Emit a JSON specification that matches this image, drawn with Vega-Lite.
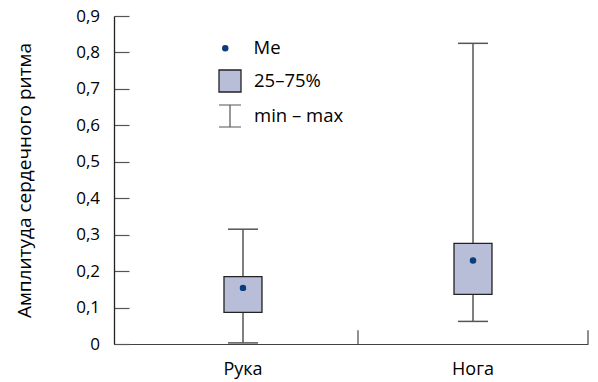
{
  "$schema": "https://vega.github.io/schema/vega-lite/v6.json",
  "autosize": "none",
  "width": 474,
  "height": 328,
  "padding": {"left": 114, "top": 16, "right": 10, "bottom": 38},
  "background": "white",
  "data": {
    "values": [
      {"group": "Рука", "min": 0.003, "q1": 0.087, "median": 0.154, "q3": 0.185, "max": 0.315},
      {"group": "Нога", "min": 0.062, "q1": 0.136, "median": 0.229, "q3": 0.276, "max": 0.825}
    ]
  },
  "encoding": {
    "x": {
      "field": "group",
      "type": "nominal",
      "sort": ["Рука", "Нога"],
      "scale": {"domain": ["Рука", "Нога"], "paddingInner": 0, "paddingOuter": 0.0304, "align": 1},
      "axis": {
        "title": null,
        "labelAngle": 0,
        "ticks": false,
        "labelPadding": 16,
        "domainColor": "#444",
        "domainWidth": 1.2,
        "labelFont": "Open Sans",
        "labelFontSize": 18,
        "labelColor": "#000"
      }
    }
  },
  "layer": [
    {
      "mark": {"type": "rule", "strokeWidth": 1.5},
      "encoding": {
        "y": {
          "field": "min",
          "type": "quantitative",
          "scale": {"domain": [0, 0.9], "nice": false, "zero": true},
          "axis": {"title": "Амплитуда сердечного ритма"}
        },
        "y2": {"field": "max"},
        "stroke": {
          "datum": "min – max",
          "scale": {"domain": ["min – max"], "range": ["#555"]},
          "legend": {
            "title": null,
            "orient": "none",
            "legendX": 104,
            "legendY": 88,
            "padding": 0,
            "symbolType": "M-1,-1H1M0,-1V1M-1,1H1",
            "symbolSize": 484,
            "symbolStrokeWidth": 1.2,
            "symbolStrokeColor": "#222",
            "labelOffset": 12,
            "labelFont": "Open Sans",
            "labelFontSize": 18.5,
            "labelColor": "#000"
          }
        }
      }
    },
    {
      "data": {"values": [{}]},
      "mark": {"type": "rule", "color": "#444", "strokeWidth": 1.2},
      "encoding": {
        "x": {"datum": "Нога", "bandPosition": 0},
        "y": {"datum": 0, "type": "quantitative"},
        "y2": {"datum": 0.038}
      }
    },
    {
      "data": {"values": [{}]},
      "mark": {"type": "rule", "color": "#444", "strokeWidth": 1.2},
      "encoding": {
        "x": {"datum": "Нога", "bandPosition": 1},
        "y": {"datum": 0, "type": "quantitative"},
        "y2": {"datum": 0.038}
      }
    },
    {
      "mark": {"type": "tick", "size": 30, "thickness": 1.5, "color": "#555", "opacity": 1},
      "encoding": {"y": {"field": "max", "type": "quantitative"}}
    },
    {
      "mark": {"type": "tick", "size": 30, "thickness": 1.5, "color": "#555", "opacity": 1},
      "encoding": {"y": {"field": "min", "type": "quantitative"}}
    },
    {
      "mark": {"type": "bar", "size": 38, "stroke": "#222", "strokeWidth": 1.3, "opacity": 1},
      "encoding": {
        "y": {"field": "q1", "type": "quantitative"},
        "y2": {"field": "q3"},
        "fill": {
          "datum": "25–75%",
          "scale": {"domain": ["25–75%"], "range": ["#b8bed8"]},
          "legend": {
            "title": null,
            "orient": "none",
            "legendX": 104,
            "legendY": 53,
            "padding": 0,
            "symbolType": "square",
            "symbolSize": 484,
            "symbolStrokeWidth": 1.3,
            "symbolStrokeColor": "#222",
            "symbolOpacity": 1,
            "labelOffset": 12,
            "labelFont": "Open Sans",
            "labelFontSize": 18.5,
            "labelColor": "#000"
          }
        }
      }
    },
    {
      "mark": {"type": "circle", "size": 42, "opacity": 1},
      "encoding": {
        "y": {"field": "median", "type": "quantitative"},
        "color": {
          "datum": "Me",
          "scale": {"domain": ["Me"], "range": ["#0b3c7d"]},
          "legend": {
            "title": null,
            "orient": "none",
            "legendX": 102,
            "legendY": 23,
            "padding": 0,
            "symbolType": "circle",
            "symbolSize": 42,
            "symbolOpacity": 1,
            "labelOffset": 19,
            "labelFont": "Open Sans",
            "labelFontSize": 18.5,
            "labelColor": "#000"
          }
        }
      }
    }
  ],
  "config": {
    "view": {"stroke": null},
    "axisY": {
      "tickCount": 10,
      "labelExpr": "datum.value == 0 ? '0' : replace(format(datum.value, '.1f'), '.', ',')",
      "labelOverlap": false,
      "labelFlush": false,
      "grid": false,
      "tickSize": -15,
      "labelPadding": 29.5,
      "domainColor": "#222",
      "tickColor": "#555",
      "tickWidth": 1.2,
      "domainWidth": 1.3,
      "labelFont": "Open Sans",
      "labelFontSize": 17,
      "labelColor": "#000",
      "titleFont": "Open Sans",
      "titleFontSize": 19,
      "titleFontWeight": "normal",
      "titleColor": "#000",
      "titlePadding": 41
    }
  }
}
